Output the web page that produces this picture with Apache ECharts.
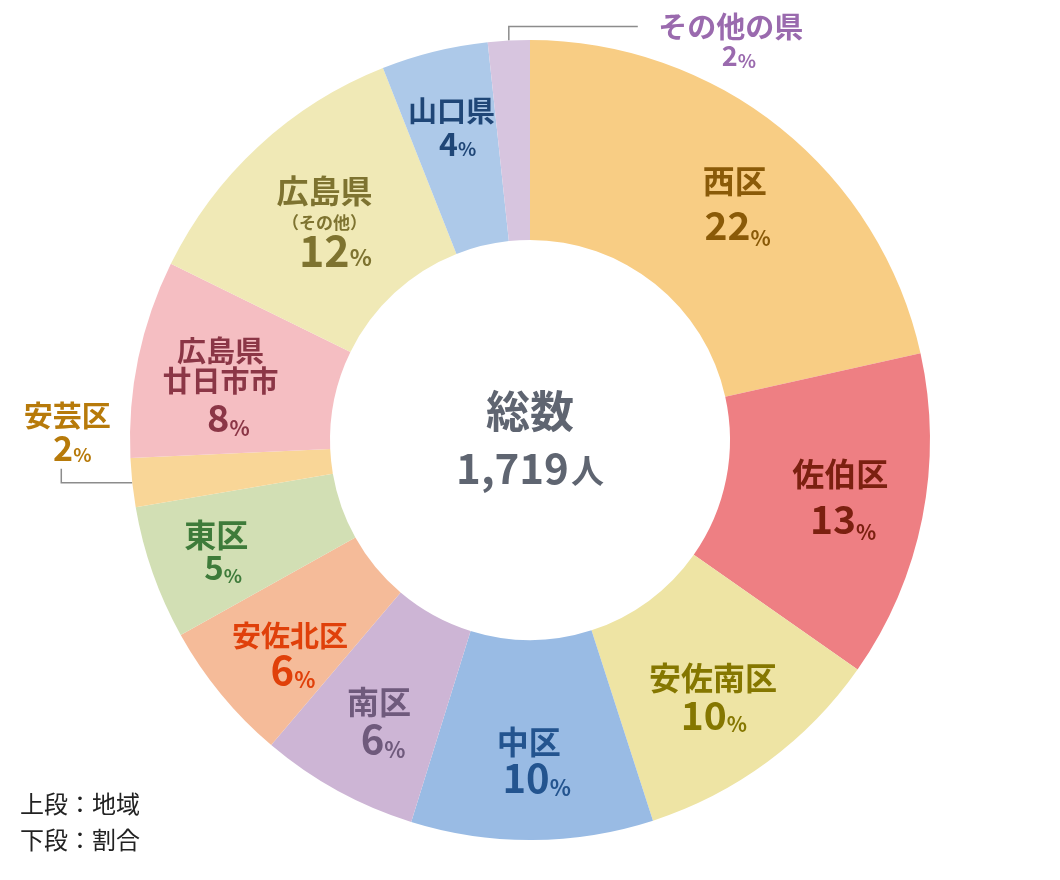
<!DOCTYPE html>
<html><head><meta charset="utf-8">
<script src="https://cdn.jsdelivr.net/npm/echarts@6/dist/echarts.min.js"></script>
<style>html,body{margin:0;padding:0;background:#fff}#c{width:1060px;height:880px}</style>
</head><body><div id="c"></div>
<script>
// ---- data ----
const regions = ['西区','佐伯区','安佐南区','中区','南区','安佐北区','東区','安芸区','広島県\n廿日市市','広島県\n（その他）','山口県','その他の県'];
const counts = [370, 227, 177, 168, 110, 98, 93, 34, 137, 202, 74, 29];
const percents = [22, 13, 10, 10, 6, 6, 5, 2, 8, 12, 4, 2];
const totalLabel = '1,719';
const sliceColors = ['#F8CD84','#EE7F83','#EEE4A4','#99BBE4','#CDB5D5','#F5BB99','#D2DFB4','#F9D697','#F5BEC2','#F0E9B6','#ADC9E9','#D7C5DF'];
const labelColors = ['#8A5A08','#7B2010','#857700','#23548F','#6F5A7C','#E0400A','#3E7B3A','#B77A0A','#8B3646','#7E7330','#1F4677','#9A6AAE'];

// ---- label typography / placement (style, not data) ----
// [nameSize, nameLineH, numSize, numLineH, pctSize, dx, dy, pctLineShift]
const labelTypo = [
  [32,44,39,46,21, 15,0, 3],
  [32,44,39,46,21, 13,-2, 3],
  [32,34,39,40,21, 3,14, 1],
  [32,30,40,42,22, -3,20, 8],
  [32,30,40,44,22, -5,18, 4],
  [29,24,40,42,22, -6,25, 3],
  [32,30,33,36,19, -28,12, 7],
  [29,30,34,34,19, -65,-50, 5],
  [29,30,38,42,21, -13,9, 8],
  [32,44,43,36,23, 0,1, 11],
  [29,36,32,30,19, -6,-20, 6],
  [29,28,27,30,19, 222,1, 8]
];
const leaderLines = { 7: [[-71,0],[-71,-14]], 11: [[0,-14],[129,-14]] };
const F = '"Noto Sans CJK JP", "Noto Sans", sans-serif';

const data = regions.map((name, i) => {
  const t = labelTypo[i];
  const outside = leaderLines[i] !== undefined;
  const c = labelColors[i];
  return {
    name: name,
    value: counts[i],
    itemStyle: { color: sliceColors[i] },
    label: {
      position: outside ? 'outside' : 'inside',
      color: c,
      rich: {
        n: { fontSize: t[0], lineHeight: t[1], fontWeight: 'bold', fontFamily: F, color: c },
        s: { fontSize: 17, lineHeight: 20, fontWeight: 'bold', fontFamily: F, color: c },
        p: { fontSize: t[2], lineHeight: t[3], fontWeight: 'bold', fontFamily: F, color: c, padding: [0, 0, 0, 2 * t[7]] },
        u: { fontSize: t[4], lineHeight: t[3] - 0.76 * (t[2] - t[4]), verticalAlign: 'bottom', fontWeight: 'bold', fontFamily: F, color: c }
      }
    },
    labelLine: { show: outside }
  };
});

const chart = echarts.init(document.getElementById('c'), null, { renderer: 'canvas' });
chart.setOption({
  animation: false,
  backgroundColor: '#ffffff',
  title: {
    text: '{a|総数}\n{b|' + totalLabel + '}{c|人}',
    left: 'center',
    top: 'middle',
    padding: 0,
    textStyle: {
      rich: {
        a: { fontSize: 44, lineHeight: 56, fontWeight: 'bold', fontFamily: F, color: '#5F6571' },
        b: { fontSize: 42, lineHeight: 58, fontWeight: 'bold', fontFamily: F, color: '#5F6571' },
        c: { fontSize: 33, padding: [4, 0, 0, 2], fontWeight: 'bold', fontFamily: F, color: '#5F6571' }
      }
    }
  },
  graphic: [{
    type: 'text',
    left: 20,
    top: 786,
    style: {
      text: '上段：地域\n下段：割合',
      font: '24px "Noto Sans CJK JP"',
      lineHeight: 36,
      fill: '#222222'
    }
  }],
  series: [{
    type: 'pie',
    center: [530, 440],
    radius: [200, 400],
    startAngle: 90,
    clockwise: true,
    avoidLabelOverlap: false,
    silent: true,
    label: {
      show: true,
      overflow: 'none',
      fontFamily: F,
      formatter: function (p) {
        const lines = p.name.split('\n').map(s => (s.charAt(0) === '（' ? '{s|' : '{n|') + s + '}');
        return lines.join('\n') + '\n{p|' + percents[p.dataIndex] + '}{u|%}';
      }
    },
    labelLine: { lineStyle: { color: '#8C8C8C', width: 1.5 } },
    labelLayout: function (p) {
      const i = p.dataIndex;
      const t = labelTypo[i];
      const ll = leaderLines[i];
      if (ll && p.labelLinePoints) {
        const p0 = p.labelLinePoints[0];
        return {
          x: p0[0] + t[5], y: p0[1] + t[6], align: 'center', verticalAlign: 'middle',
          labelLinePoints: [[p0[0], p0[1]], [p0[0] + ll[0][0], p0[1] + ll[0][1]], [p0[0] + ll[1][0], p0[1] + ll[1][1]]]
        };
      }
      return { dx: t[5], dy: t[6] };
    },
    data: data
  }]
});
</script>
</body></html>
